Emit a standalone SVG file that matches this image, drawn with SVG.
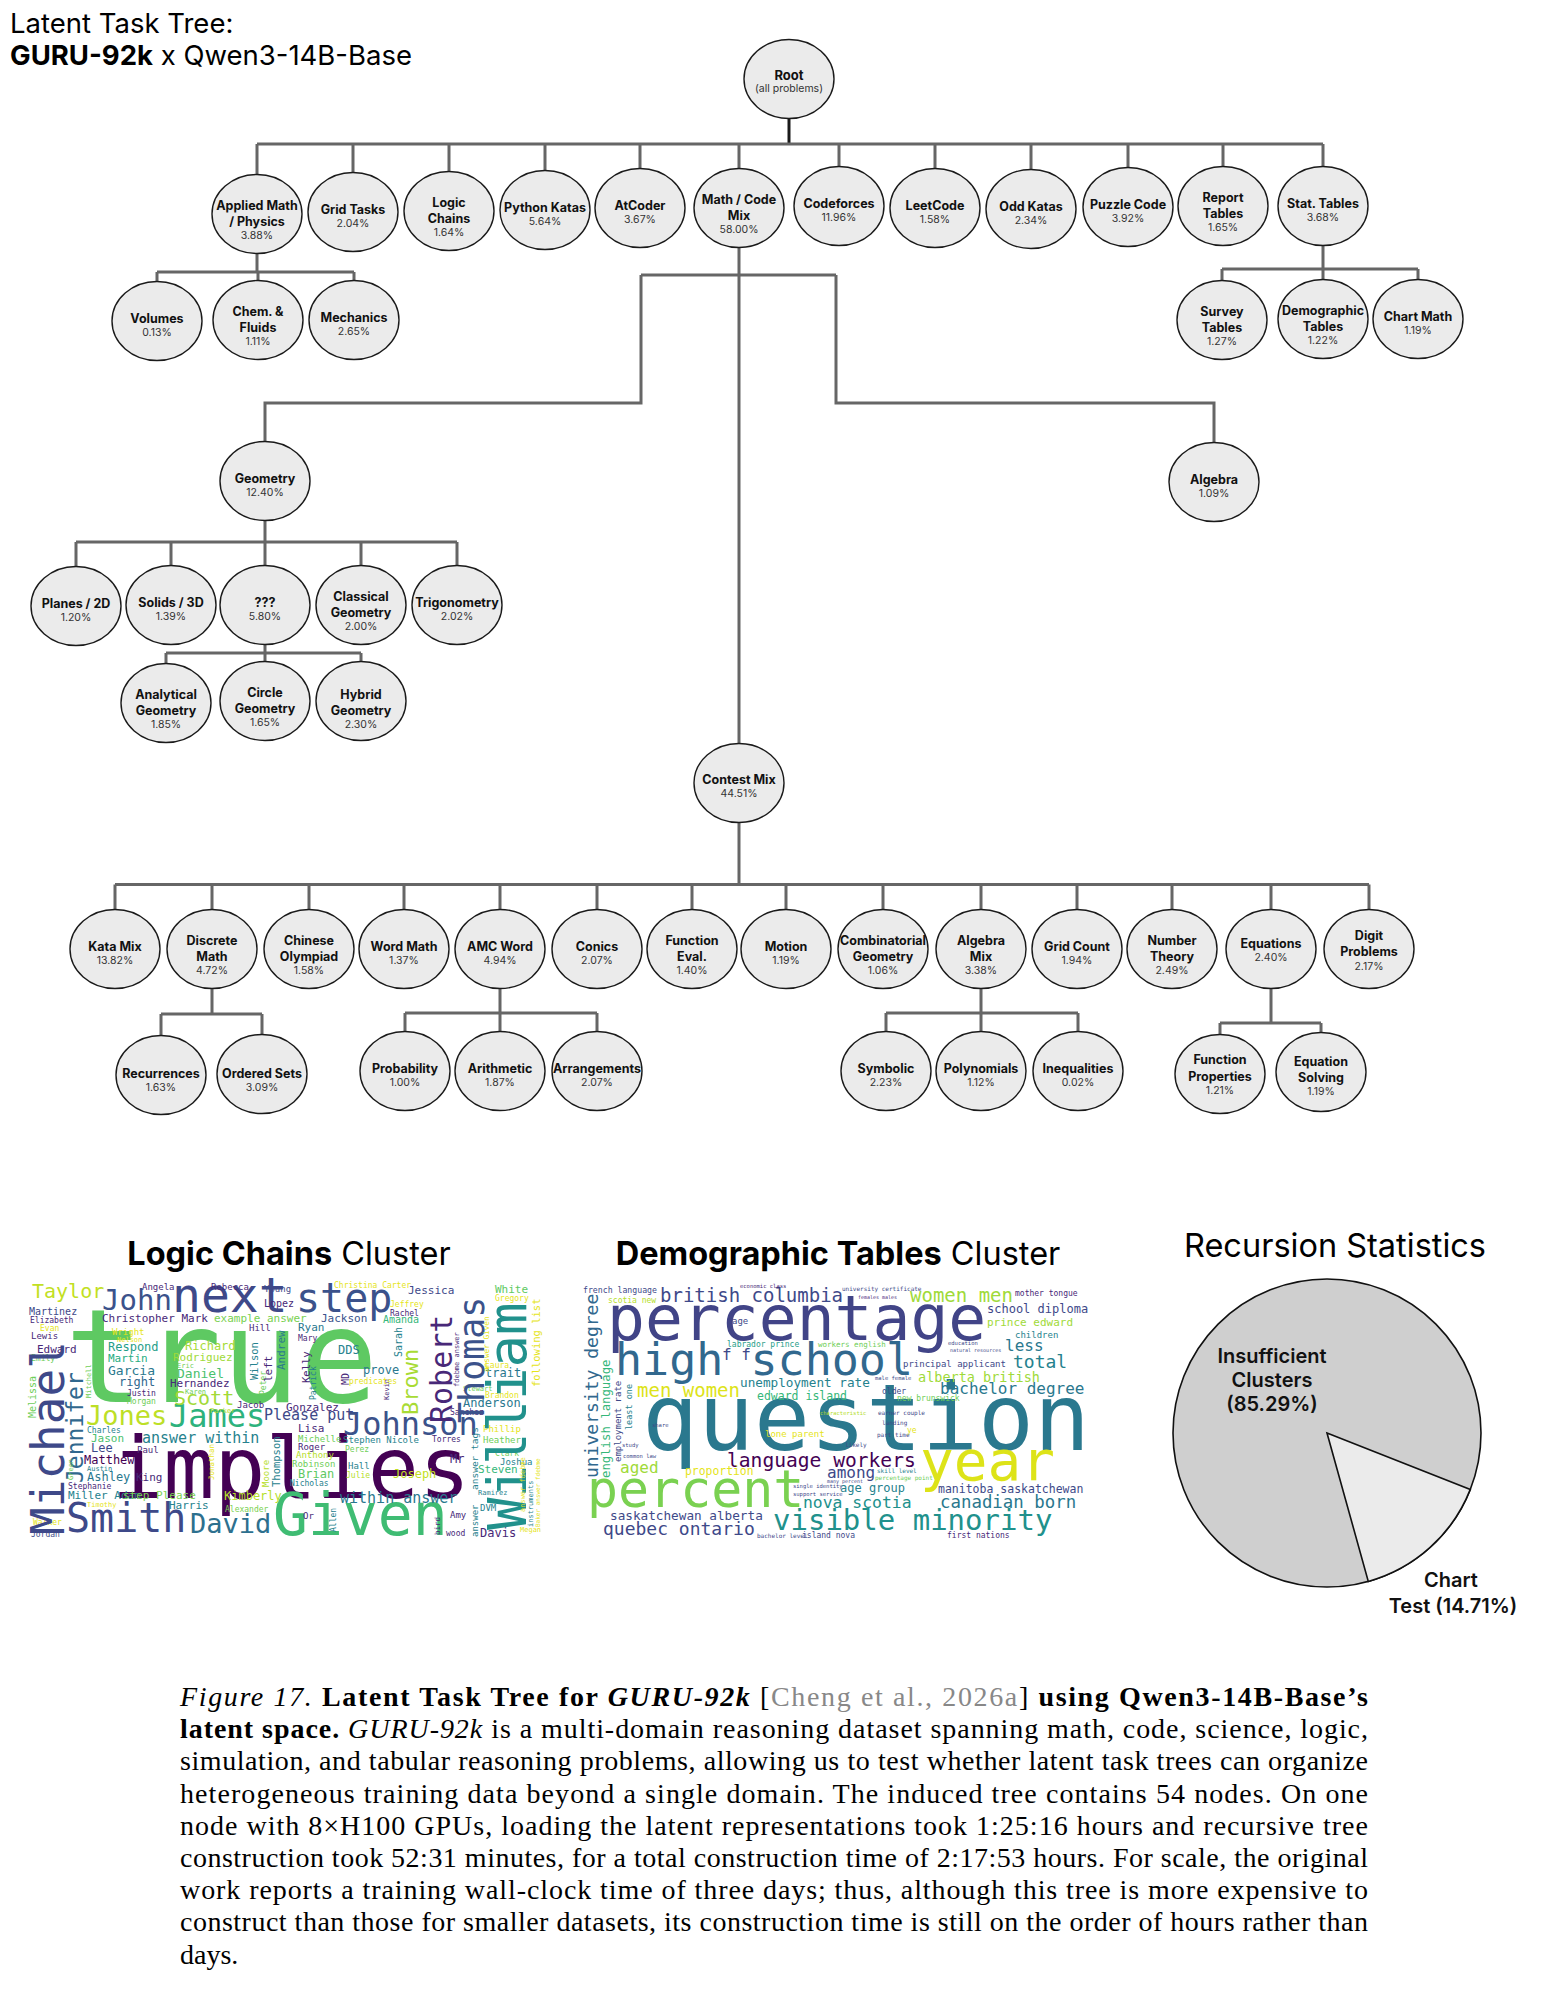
<svg xmlns="http://www.w3.org/2000/svg" width="1542" height="1992" viewBox="0 0 1542 1992">
<style>
.node ellipse{fill:#ebebeb;stroke:#1a1a1a;stroke-width:1.4}
.lb{font-family:Inter,"Liberation Sans",sans-serif;font-weight:700;font-size:12.5px;text-anchor:middle;fill:#111}
.pc{font-family:Inter,"Liberation Sans",sans-serif;font-size:10.5px;text-anchor:middle;fill:#333}
.conn path{fill:none;stroke:#666;stroke-width:3}
.title{font-family:Inter,"Liberation Sans",sans-serif;font-size:27.5px;fill:#000}
.head{font-family:Inter,"Liberation Sans",sans-serif;font-size:32.5px;fill:#000;text-anchor:middle}
.pie{font-family:Inter,"Liberation Sans",sans-serif;font-size:20px;font-weight:600;fill:#111;text-anchor:middle}
.cap{font-family:"Liberation Serif","Times New Roman",serif;font-size:28px;fill:#000}
.wc{font-family:"DejaVu Sans Mono",monospace}
.c0{fill:#440154}.c1{fill:#482878}.c2{fill:#3e4989}.c3{fill:#31688e}.c4{fill:#26828e}
.c5{fill:#1f9e89}.c6{fill:#35b779}.c7{fill:#6ece58}.c8{fill:#b5de2b}.c9{fill:#e5e419}
</style>
<rect width="1542" height="1992" fill="#fff"/>

<g id="title">
<text class="title" x="10" y="33">Latent Task Tree:</text>
<text class="title" x="10" y="65"><tspan font-weight="700">GURU-92k</tspan> x Qwen3-14B-Base</text>
</g>

<g id="connectors" class="conn">
<path d="M789 118V144" style="stroke:#1a1a1a"/>
<path d="M257 144H1323"/>
<path d="M257 144V174.5M353 144V172.5M449 144V171.5M545 144V170.5M640 144V168.5M739 144V168.5M839 144V166.5M935 144V168.5M1031 144V169.5M1128 144V167.5M1223 144V166.5M1323 144V166.5"/>
<path d="M257 253.5V272M157 272H354M157 272V281.5M258 272V280.5M354 272V280.5"/>
<path d="M1323 245.5V269M1222 269H1418M1222 269V280.5M1323 269V279.5M1418 269V279.5"/>
<path d="M739 247.5V743.5M641 275H836M641 275V403H265V441.5M836 275V403H1214V442.5"/>
<path d="M265 520.5V542M76 542H457M76 542V566.5M171 542V565.5M265 542V565.5M361 542V565.5M457 542V565.5"/>
<path d="M265 644.5V653M166 653H361M166 653V663.5M265 653V661.5M361 653V661.5"/>
<path d="M739 822.5V884.5M115 884.5H1369M115 884.5V909.5M212 884.5V909.5M309 884.5V909.5M404 884.5V909.5M500 884.5V909.5M597 884.5V909.5M692 884.5V909.5M786 884.5V909.5M883 884.5V909.5M981 884.5V909.5M1077 884.5V909.5M1172 884.5V909.5M1271 884.5V909.5M1369 884.5V909.5"/>
<path d="M212 988.5V1014M161 1014H262M161 1014V1035.5M262 1014V1034.5"/>
<path d="M500 988.5V1013M405 1013H597M405 1013V1031.5M500 1013V1031.5M597 1013V1031.5"/>
<path d="M981 988.5V1013M886 1013H1078M886 1013V1031.5M981 1013V1031.5M1078 1013V1031.5"/>
<path d="M1271 988.5V1023M1220 1023H1321M1220 1023V1034.5M1321 1023V1032.5"/>
</g>

<g id="n-root" class="node"><ellipse cx="789" cy="79" rx="45" ry="39.5"/><text class="lb" x="789" y="80" style="font-size:13px">Root</text><text class="pc" x="789" y="92">(all problems)</text></g>

<g id="n-applied" class="node"><ellipse cx="257" cy="214" rx="45" ry="39.5"/><text class="lb" x="257" y="210">Applied Math</text><text class="lb" x="257" y="226">/ Physics</text><text class="pc" x="257" y="239">3.88%</text></g>
<g id="n-grid" class="node"><ellipse cx="353" cy="212" rx="45" ry="39.5"/><text class="lb" x="353" y="213.5">Grid Tasks</text><text class="pc" x="353" y="226.5">2.04%</text></g>
<g id="n-logic" class="node"><ellipse cx="449" cy="211" rx="45" ry="39.5"/><text class="lb" x="449" y="207">Logic</text><text class="lb" x="449" y="223">Chains</text><text class="pc" x="449" y="236">1.64%</text></g>
<g id="n-python" class="node"><ellipse cx="545" cy="210" rx="45" ry="39.5"/><text class="lb" x="545" y="211.5">Python Katas</text><text class="pc" x="545" y="224.5">5.64%</text></g>
<g id="n-atcoder" class="node"><ellipse cx="640" cy="208" rx="45" ry="39.5"/><text class="lb" x="640" y="209.5">AtCoder</text><text class="pc" x="640" y="222.5">3.67%</text></g>
<g id="n-mathcode" class="node"><ellipse cx="739" cy="208" rx="45" ry="39.5"/><text class="lb" x="739" y="204">Math / Code</text><text class="lb" x="739" y="220">Mix</text><text class="pc" x="739" y="233">58.00%</text></g>
<g id="n-codeforces" class="node"><ellipse cx="839" cy="206" rx="45" ry="39.5"/><text class="lb" x="839" y="207.5">Codeforces</text><text class="pc" x="839" y="220.5">11.96%</text></g>
<g id="n-leetcode" class="node"><ellipse cx="935" cy="208" rx="45" ry="39.5"/><text class="lb" x="935" y="209.5">LeetCode</text><text class="pc" x="935" y="222.5">1.58%</text></g>
<g id="n-oddkatas" class="node"><ellipse cx="1031" cy="209" rx="45" ry="39.5"/><text class="lb" x="1031" y="210.5">Odd Katas</text><text class="pc" x="1031" y="223.5">2.34%</text></g>
<g id="n-puzzle" class="node"><ellipse cx="1128" cy="207" rx="45" ry="39.5"/><text class="lb" x="1128" y="208.5">Puzzle Code</text><text class="pc" x="1128" y="221.5">3.92%</text></g>
<g id="n-report" class="node"><ellipse cx="1223" cy="206" rx="45" ry="39.5"/><text class="lb" x="1223" y="202">Report</text><text class="lb" x="1223" y="218">Tables</text><text class="pc" x="1223" y="231">1.65%</text></g>
<g id="n-stat" class="node"><ellipse cx="1323" cy="206" rx="45" ry="39.5"/><text class="lb" x="1323" y="207.5">Stat. Tables</text><text class="pc" x="1323" y="220.5">3.68%</text></g>

<g id="n-volumes" class="node"><ellipse cx="157" cy="321" rx="45" ry="39.5"/><text class="lb" x="157" y="322.5">Volumes</text><text class="pc" x="157" y="335.5">0.13%</text></g>
<g id="n-chem" class="node"><ellipse cx="258" cy="320" rx="45" ry="39.5"/><text class="lb" x="258" y="316">Chem. &amp;</text><text class="lb" x="258" y="332">Fluids</text><text class="pc" x="258" y="345">1.11%</text></g>
<g id="n-mechanics" class="node"><ellipse cx="354" cy="320" rx="45" ry="39.5"/><text class="lb" x="354" y="321.5">Mechanics</text><text class="pc" x="354" y="334.5">2.65%</text></g>
<g id="n-survey" class="node"><ellipse cx="1222" cy="320" rx="45" ry="39.5"/><text class="lb" x="1222" y="316">Survey</text><text class="lb" x="1222" y="332">Tables</text><text class="pc" x="1222" y="345">1.27%</text></g>
<g id="n-demotables" class="node"><ellipse cx="1323" cy="319" rx="45" ry="39.5"/><text class="lb" x="1323" y="315">Demographic</text><text class="lb" x="1323" y="331">Tables</text><text class="pc" x="1323" y="344">1.22%</text></g>
<g id="n-chartmath" class="node"><ellipse cx="1418" cy="319" rx="45" ry="39.5"/><text class="lb" x="1418" y="320.5">Chart Math</text><text class="pc" x="1418" y="333.5">1.19%</text></g>

<g id="n-geometry" class="node"><ellipse cx="265" cy="481" rx="45" ry="39.5"/><text class="lb" x="265" y="482.5">Geometry</text><text class="pc" x="265" y="495.5">12.40%</text></g>
<g id="n-algebra" class="node"><ellipse cx="1214" cy="482" rx="45" ry="39.5"/><text class="lb" x="1214" y="483.5">Algebra</text><text class="pc" x="1214" y="496.5">1.09%</text></g>
<g id="n-contest" class="node"><ellipse cx="739" cy="783" rx="45" ry="39.5"/><text class="lb" x="739" y="784">Contest Mix</text><text class="pc" x="739" y="796.5">44.51%</text></g>

<g id="n-planes" class="node"><ellipse cx="76" cy="606" rx="45" ry="39.5"/><text class="lb" x="76" y="607.5">Planes / 2D</text><text class="pc" x="76" y="620.5">1.20%</text></g>
<g id="n-solids" class="node"><ellipse cx="171" cy="605" rx="45" ry="39.5"/><text class="lb" x="171" y="606.5">Solids / 3D</text><text class="pc" x="171" y="619.5">1.39%</text></g>
<g id="n-qqq" class="node"><ellipse cx="265" cy="605" rx="45" ry="39.5"/><text class="lb" x="265" y="606.5">???</text><text class="pc" x="265" y="619.5">5.80%</text></g>
<g id="n-classical" class="node"><ellipse cx="361" cy="605" rx="45" ry="39.5"/><text class="lb" x="361" y="601">Classical</text><text class="lb" x="361" y="617">Geometry</text><text class="pc" x="361" y="630">2.00%</text></g>
<g id="n-trig" class="node"><ellipse cx="457" cy="605" rx="45" ry="39.5"/><text class="lb" x="457" y="606.5">Trigonometry</text><text class="pc" x="457" y="619.5">2.02%</text></g>
<g id="n-analytical" class="node"><ellipse cx="166" cy="703" rx="45" ry="39.5"/><text class="lb" x="166" y="699">Analytical</text><text class="lb" x="166" y="715">Geometry</text><text class="pc" x="166" y="728">1.85%</text></g>
<g id="n-circle" class="node"><ellipse cx="265" cy="701" rx="45" ry="39.5"/><text class="lb" x="265" y="697">Circle</text><text class="lb" x="265" y="713">Geometry</text><text class="pc" x="265" y="726">1.65%</text></g>
<g id="n-hybrid" class="node"><ellipse cx="361" cy="701" rx="45" ry="39.5"/><text class="lb" x="361" y="699">Hybrid</text><text class="lb" x="361" y="715">Geometry</text><text class="pc" x="361" y="728">2.30%</text></g>

<g id="n-kata" class="node"><ellipse cx="115" cy="949" rx="45" ry="39.5"/><text class="lb" x="115" y="950.5">Kata Mix</text><text class="pc" x="115" y="963.5">13.82%</text></g>
<g id="n-discrete" class="node"><ellipse cx="212" cy="949" rx="45" ry="39.5"/><text class="lb" x="212" y="945">Discrete</text><text class="lb" x="212" y="961">Math</text><text class="pc" x="212" y="974">4.72%</text></g>
<g id="n-chinese" class="node"><ellipse cx="309" cy="949" rx="45" ry="39.5"/><text class="lb" x="309" y="945">Chinese</text><text class="lb" x="309" y="961">Olympiad</text><text class="pc" x="309" y="974">1.58%</text></g>
<g id="n-wordmath" class="node"><ellipse cx="404" cy="949" rx="45" ry="39.5"/><text class="lb" x="404" y="950.5">Word Math</text><text class="pc" x="404" y="963.5">1.37%</text></g>
<g id="n-amc" class="node"><ellipse cx="500" cy="949" rx="45" ry="39.5"/><text class="lb" x="500" y="950.5">AMC Word</text><text class="pc" x="500" y="963.5">4.94%</text></g>
<g id="n-conics" class="node"><ellipse cx="597" cy="949" rx="45" ry="39.5"/><text class="lb" x="597" y="950.5">Conics</text><text class="pc" x="597" y="963.5">2.07%</text></g>
<g id="n-funceval" class="node"><ellipse cx="692" cy="949" rx="45" ry="39.5"/><text class="lb" x="692" y="945">Function</text><text class="lb" x="692" y="961">Eval.</text><text class="pc" x="692" y="974">1.40%</text></g>
<g id="n-motion" class="node"><ellipse cx="786" cy="949" rx="45" ry="39.5"/><text class="lb" x="786" y="950.5">Motion</text><text class="pc" x="786" y="963.5">1.19%</text></g>
<g id="n-combgeo" class="node"><ellipse cx="883" cy="949" rx="45" ry="39.5"/><text class="lb" x="883" y="945">Combinatorial</text><text class="lb" x="883" y="961">Geometry</text><text class="pc" x="883" y="974">1.06%</text></g>
<g id="n-algmix" class="node"><ellipse cx="981" cy="949" rx="45" ry="39.5"/><text class="lb" x="981" y="945">Algebra</text><text class="lb" x="981" y="961">Mix</text><text class="pc" x="981" y="974">3.38%</text></g>
<g id="n-gridcount" class="node"><ellipse cx="1077" cy="949" rx="45" ry="39.5"/><text class="lb" x="1077" y="950.5">Grid Count</text><text class="pc" x="1077" y="963.5">1.94%</text></g>
<g id="n-numtheory" class="node"><ellipse cx="1172" cy="949" rx="45" ry="39.5"/><text class="lb" x="1172" y="945">Number</text><text class="lb" x="1172" y="961">Theory</text><text class="pc" x="1172" y="974">2.49%</text></g>
<g id="n-equations" class="node"><ellipse cx="1271" cy="949" rx="45" ry="39.5"/><text class="lb" x="1271" y="948">Equations</text><text class="pc" x="1271" y="961">2.40%</text></g>
<g id="n-digit" class="node"><ellipse cx="1369" cy="949" rx="45" ry="39.5"/><text class="lb" x="1369" y="940">Digit</text><text class="lb" x="1369" y="956">Problems</text><text class="pc" x="1369" y="969.5">2.17%</text></g>

<g id="n-recurrences" class="node"><ellipse cx="161" cy="1075" rx="45" ry="39.5"/><text class="lb" x="161" y="1078">Recurrences</text><text class="pc" x="161" y="1091">1.63%</text></g>
<g id="n-ordered" class="node"><ellipse cx="262" cy="1074" rx="45" ry="39.5"/><text class="lb" x="262" y="1077.5">Ordered Sets</text><text class="pc" x="262" y="1091">3.09%</text></g>
<g id="n-probability" class="node"><ellipse cx="405" cy="1071" rx="45" ry="39.5"/><text class="lb" x="405" y="1072.5">Probability</text><text class="pc" x="405" y="1085.5">1.00%</text></g>
<g id="n-arithmetic" class="node"><ellipse cx="500" cy="1071" rx="45" ry="39.5"/><text class="lb" x="500" y="1072.5">Arithmetic</text><text class="pc" x="500" y="1085.5">1.87%</text></g>
<g id="n-arrangements" class="node"><ellipse cx="597" cy="1071" rx="45" ry="39.5"/><text class="lb" x="597" y="1072.5">Arrangements</text><text class="pc" x="597" y="1085.5">2.07%</text></g>
<g id="n-symbolic" class="node"><ellipse cx="886" cy="1071" rx="45" ry="39.5"/><text class="lb" x="886" y="1072.5">Symbolic</text><text class="pc" x="886" y="1085.5">2.23%</text></g>
<g id="n-polynomials" class="node"><ellipse cx="981" cy="1071" rx="45" ry="39.5"/><text class="lb" x="981" y="1072.5">Polynomials</text><text class="pc" x="981" y="1085.5">1.12%</text></g>
<g id="n-inequalities" class="node"><ellipse cx="1078" cy="1071" rx="45" ry="39.5"/><text class="lb" x="1078" y="1072.5">Inequalities</text><text class="pc" x="1078" y="1085.5">0.02%</text></g>
<g id="n-funcprops" class="node"><ellipse cx="1220" cy="1074" rx="45" ry="39.5"/><text class="lb" x="1220" y="1064">Function</text><text class="lb" x="1220" y="1080.5">Properties</text><text class="pc" x="1220" y="1094">1.21%</text></g>
<g id="n-eqsolving" class="node"><ellipse cx="1321" cy="1072" rx="45" ry="39.5"/><text class="lb" x="1321" y="1065.5">Equation</text><text class="lb" x="1321" y="1082">Solving</text><text class="pc" x="1321" y="1095">1.19%</text></g>

<g id="panel-logic">
<text class="head" x="289" y="1265"><tspan font-weight="700">Logic Chains</tspan> Cluster</text>
<g class="wc">
<text x="65" y="1402" font-size="130" fill="#5ec962">true</text>
<text x="112" y="1498" font-size="85" class="c0">implies</text>
<text x="273" y="1535" font-size="58" fill="#3fbc73">Given</text>
<text x="66" y="1532" font-size="40" class="c2">Smith</text>
<text x="190" y="1533" font-size="27" fill="#2d708e">David</text>
<text x="172" y="1312" font-size="48" class="c2">next</text>
<text x="296" y="1312" font-size="40" fill="#3b528b">step</text>
<text x="102" y="1310" font-size="29" fill="#3b528b">John</text>
<text x="32" y="1298" font-size="20" fill="#c2df23">Taylor</text>
<text x="86" y="1425" font-size="27" fill="#bddf26">Jones</text>
<text x="169" y="1427" font-size="32" fill="#2db27d">James</text>
<text x="343" y="1435" font-size="32" fill="#3b528b">Johnson</text>
<text x="174" y="1405" font-size="20" fill="#a2da37">Scott</text>
<text x="142" y="1443" font-size="15" class="c4">answer within</text>
<text x="264" y="1420" font-size="15" class="c2">Please put</text>
<text x="340" y="1503" font-size="15" fill="#2a788e">within answer</text>
<text x="102" y="1322" font-size="11" class="c1">Christopher Mark</text>
<text x="214" y="1322" font-size="11" fill="#7ad151">example answer</text>
<text x="321" y="1322" font-size="11" fill="#3b528b">Jackson</text>
<text x="383" y="1323" font-size="10" class="c6">Amanda</text>
<text x="408" y="1294" font-size="11" class="c2">Jessica</text>
<text x="495" y="1293" font-size="11" fill="#5ec962">White</text>
<text x="264" y="1292" font-size="9" class="c2">Young</text>
<text x="211" y="1290" font-size="9" class="c1">Rebecca</text>
<text x="142" y="1290" font-size="9" class="c1">Angela</text>
<text x="334" y="1288" font-size="8" class="c9">Christina Carter</text>
<text x="29" y="1315" font-size="10" class="c2">Martinez</text>
<text x="30" y="1323" font-size="8" class="c1">Elizabeth</text>
<text x="40" y="1331" font-size="8" class="c9">Evan</text>
<text x="112" y="1335" font-size="9" class="c9">Wright</text>
<text x="31" y="1339" font-size="9" class="c1">Lewis</text>
<text x="37" y="1353" font-size="11" class="c1">Edward</text>
<text x="31" y="1361" font-size="8" class="c7">Emily</text>
<text x="117" y="1342" font-size="7" class="c9">Nelson</text>
<text x="108" y="1351" font-size="12" class="c5">Respond</text>
<text x="185" y="1350" font-size="12" fill="#a5db36">Richard</text>
<text x="108" y="1362" font-size="11" fill="#27ad81">Martin</text>
<text x="173" y="1361" font-size="11" fill="#a0da39">Rodriguez</text>
<text x="108" y="1375" font-size="13" fill="#2a788e">Garcia</text>
<text x="177" y="1368" font-size="7" class="c7">Eric</text>
<text x="177" y="1378" font-size="13" fill="#4ac16d">Daniel</text>
<text x="119" y="1386" font-size="12" class="c3">right</text>
<text x="170" y="1387" font-size="11" class="c1">Hernandez</text>
<text x="185" y="1394" font-size="7" class="c7">Karen</text>
<text x="127" y="1396" font-size="8" class="c1">Justin</text>
<text x="127" y="1404" font-size="8" class="c7">Morgan</text>
<text x="87" y="1433" font-size="8" class="c4">Charles</text>
<text x="91" y="1442" font-size="11" fill="#4ac16d">Jason</text>
<text x="91" y="1452" font-size="12" class="c2">Lee</text>
<text x="137" y="1453" font-size="9" class="c1">Paul</text>
<text x="84" y="1464" font-size="12" class="c0">Matthew</text>
<text x="87" y="1471" font-size="7" class="c4">Austin</text>
<text x="87" y="1481" font-size="12" fill="#2a788e">Ashley</text>
<text x="136" y="1481" font-size="11" class="c1">King</text>
<text x="68" y="1489" font-size="8" class="c1">Stephanie</text>
<text x="68" y="1499" font-size="11" class="c4">Miller Adam</text>
<text x="123" y="1499" font-size="11" fill="#7ad151">step Please</text>
<text x="87" y="1507" font-size="7" class="c9">Timothy</text>
<text x="169" y="1509" font-size="11" class="c4">Harris</text>
<text x="224" y="1500" font-size="12" class="c8">Kimberly</text>
<text x="225" y="1512" font-size="8" fill="#7ad151">Alexander</text>
<text x="33" y="1525" font-size="8" class="c9">Walker</text>
<text x="31" y="1537" font-size="8" class="c2">Jordan</text>
<text x="264" y="1307" font-size="10" class="c1">Lopez</text>
<text x="249" y="1331" font-size="9" class="c1">Hill</text>
<text x="298" y="1331" font-size="11" fill="#2a788e">Ryan</text>
<text x="298" y="1341" font-size="8" class="c1">Mary</text>
<text x="338" y="1354" font-size="12" class="c4">DDS</text>
<text x="363" y="1374" font-size="12" fill="#2a788e">prove</text>
<text x="349" y="1384" font-size="8" class="c9">predicates</text>
<text x="237" y="1408" font-size="9" class="c1">Jacob</text>
<text x="210" y="1413" font-size="7" class="c8">Parker</text>
<text x="286" y="1411" font-size="11" class="c1">Gonzalez</text>
<text x="298" y="1432" font-size="11" class="c1">Lisa</text>
<text x="298" y="1442" font-size="9" class="c7">Michelle</text>
<text x="343" y="1443" font-size="9" class="c4">Stephen Nicole</text>
<text x="432" y="1442" font-size="8" class="c1">Torres</text>
<text x="298" y="1450" font-size="9" class="c1">Roger</text>
<text x="345" y="1452" font-size="8" class="c7">Perez</text>
<text x="296" y="1458" font-size="9" class="c8">Anthony</text>
<text x="292" y="1467" font-size="9" class="c7">Robinson</text>
<text x="348" y="1469" font-size="9" class="c4">Hall</text>
<text x="298" y="1478" font-size="12" fill="#5ec962">Brian</text>
<text x="346" y="1478" font-size="8" class="c8">Julie</text>
<text x="290" y="1486" font-size="8" class="c4">Nicholas</text>
<text x="393" y="1478" font-size="12" fill="#c2df23">Joseph</text>
<text x="303" y="1519" font-size="9" class="c1">Or</text>
<text x="450" y="1518" font-size="9" class="c1">Amy</text>
<text x="446" y="1536" font-size="8" class="c1">wood</text>
<text x="480" y="1537" font-size="12" class="c1">Davis</text>
<text x="450" y="1463" font-size="12" class="c1">Mr</text>
<text x="500" y="1465" font-size="9" class="c4">Joshua</text>
<text x="478" y="1473" font-size="11" class="c6">Steven</text>
<text x="483" y="1443" font-size="9" class="c7">Heather</text>
<text x="495" y="1456" font-size="8" class="c7">Clark</text>
<text x="483" y="1432" font-size="9" class="c9">Phillip</text>
<text x="463" y="1407" font-size="12" fill="#2a788e">Anderson</text>
<text x="450" y="1415" font-size="8" class="c1">Sanchez</text>
<text x="485" y="1398" font-size="8" class="c9">Brandon</text>
<text x="463" y="1391" font-size="7" class="c7">Stewart</text>
<text x="485" y="1377" font-size="12" fill="#2a788e">trait</text>
<text x="485" y="1368" font-size="8" class="c9">Laura</text>
<text x="495" y="1301" font-size="8" class="c9">Gregory</text>
<text x="390" y="1307" font-size="8" class="c9">Jeffrey</text>
<text x="390" y="1316" font-size="8" class="c1">Rachel</text>
<text x="480" y="1511" font-size="9" class="c4">DVM</text>
<text x="478" y="1495" font-size="7" class="c4">Ramirez</text>
<text x="520" y="1532" font-size="7" class="c9">Megan</text>
<text transform="translate(64 1535) rotate(-90)" font-size="46" class="c2">Michael</text>
<text transform="translate(83 1483) rotate(-90)" font-size="23" class="c3">Jennifer</text>
<text transform="translate(526 1530) rotate(-90)" font-size="54" fill="#21918c">William</text>
<text transform="translate(484 1423) rotate(-90)" font-size="35" fill="#3b528b">Thomas</text>
<text transform="translate(452 1423) rotate(-90)" font-size="30" class="c1">Robert</text>
<text transform="translate(418 1415) rotate(-90)" font-size="22" fill="#a8db34">Brown</text>
<text transform="translate(402 1357) rotate(-90)" font-size="10" class="c4">Sarah</text>
<text transform="translate(258 1380) rotate(-90)" font-size="10.5" class="c4">Wilson</text>
<text transform="translate(266 1395) rotate(-90)" font-size="8" class="c7">Peter</text>
<text transform="translate(272 1382) rotate(-90)" font-size="11" class="c1">left</text>
<text transform="translate(285 1370) rotate(-90)" font-size="11" fill="#2a788e">Andrew</text>
<text transform="translate(310 1383) rotate(-90)" font-size="10.5" class="c1">Kelly</text>
<text transform="translate(316 1400) rotate(-90)" font-size="8" class="c4">Patrick</text>
<text transform="translate(349 1385) rotate(-90)" font-size="10" class="c1">MD</text>
<text transform="translate(389 1400) rotate(-90)" font-size="7" class="c1">Kevin</text>
<text transform="translate(280 1487) rotate(-90)" font-size="10.5" class="c4">Thompson</text>
<text transform="translate(269 1487) rotate(-90)" font-size="9" class="c8">Moore</text>
<text transform="translate(214 1480) rotate(-90)" font-size="7.5" class="c9">Jonathan</text>
<text transform="translate(73 1480) rotate(-90)" font-size="7" class="c7">Green</text>
<text transform="translate(91 1398) rotate(-90)" font-size="7" class="c7">Mitchell</text>
<text transform="translate(36 1418) rotate(-90)" font-size="10" class="c7">Melissa</text>
<text transform="translate(336 1532) rotate(-90)" font-size="8" class="c4">Allen</text>
<text transform="translate(440 1535) rotate(-90)" font-size="7.5" class="c1">bird</text>
<text transform="translate(478 1490) rotate(-90)" font-size="9.5" class="c4">answer tags</text>
<text transform="translate(478 1537) rotate(-90)" font-size="9" class="c4">answer</text>
<text transform="translate(533 1527) rotate(-90)" font-size="7" class="c4">instruments</text>
<text transform="translate(540 1527) rotate(-90)" font-size="6" class="c9">Baker answer fdebme</text>
<text transform="translate(525 1512) rotate(-90)" font-size="7" class="c9">answer fdebme</text>
<text transform="translate(459 1387) rotate(-90)" font-size="7" class="c1">fdebme answer</text>
<text transform="translate(489 1372) rotate(-90)" font-size="7.7" class="c9">answer Given</text>
<text transform="translate(540 1387) rotate(-90)" font-size="10.5" class="c9">following list</text>
</g>
</g>

<g id="panel-demographic">
<text class="head" x="838" y="1265"><tspan font-weight="700">Demographic Tables</tspan> Cluster</text>
<g class="wc">
<text x="607" y="1340" font-size="63" fill="#414487">percentage</text>
<text x="642" y="1450" font-size="93" fill="#2a788e">question</text>
<text x="615" y="1375" font-size="45" class="c3">high school</text>
<text x="722" y="1360" font-size="16" class="c2">f f</text>
<text x="587" y="1507" font-size="51.6" fill="#7ad151">percent</text>
<text x="920" y="1480" font-size="56" fill="#dde318">year</text>
<text x="773" y="1530" font-size="29" fill="#21918c">visible minority</text>
<text x="660" y="1302" font-size="19" class="c2">british columbia</text>
<text x="910" y="1302" font-size="19" fill="#a0da39">women men</text>
<text x="1015" y="1296" font-size="8" class="c1">mother tongue</text>
<text x="987" y="1313" font-size="12" class="c2">school diploma</text>
<text x="987" y="1326" font-size="11" fill="#a0da39">prince edward</text>
<text x="1015" y="1338" font-size="9" class="c4">children</text>
<text x="1005" y="1351" font-size="16" fill="#2a788e">less</text>
<text x="1013" y="1368" font-size="18" class="c4">total</text>
<text x="903" y="1367" font-size="9" class="c2">principal applicant</text>
<text x="918" y="1382" font-size="13.5" fill="#a0da39">alberta british</text>
<text x="940" y="1394" font-size="16" fill="#2a788e">bachelor degree</text>
<text x="882" y="1394" font-size="8" class="c2">older</text>
<text x="897" y="1401" font-size="8" class="c7">new brunswick</text>
<text x="740" y="1387" font-size="12.7" class="c4">unemployment rate</text>
<text x="757" y="1400" font-size="11.5" class="c6">edward island</text>
<text x="637" y="1397" font-size="19" fill="#dde318">men women</text>
<text x="727" y="1347" font-size="8" class="c5">labrador prince</text>
<text x="818" y="1347" font-size="7.5" class="c7">workers english</text>
<text x="732" y="1324" font-size="9" class="c2">age</text>
<text x="583" y="1293" font-size="8.2" class="c2">french language</text>
<text x="608" y="1303" font-size="8" class="c8">scotia new</text>
<text x="765" y="1437" font-size="9" class="c9">lone parent</text>
<text x="907" y="1433" font-size="8" class="c9">ye</text>
<text x="727" y="1467" font-size="19.6" class="c0">language workers</text>
<text x="620" y="1473" font-size="16" fill="#a0da39">aged</text>
<text x="685" y="1475" font-size="11.4" class="c9">proportion</text>
<text x="827" y="1478" font-size="16" class="c2">among</text>
<text x="840" y="1492" font-size="12" class="c4">age group</text>
<text x="803" y="1508" font-size="16.4" fill="#21918c">nova scotia</text>
<text x="610" y="1520" font-size="12.7" class="c2">saskatchewan alberta</text>
<text x="603" y="1535" font-size="18" class="c2">quebec ontario</text>
<text x="938" y="1493" font-size="11.5" class="c2">manitoba saskatchewan</text>
<text x="940" y="1508" font-size="17.4" fill="#2a788e">canadian born</text>
<text x="947" y="1538" font-size="8" class="c1">first nations</text>
<text x="802" y="1538" font-size="8" class="c2">island nova</text>
<text x="757" y="1538" font-size="6" class="c2">bachelor level</text>
<text x="740" y="1288" font-size="5.5" class="c1">economic class</text>
<text x="842" y="1291" font-size="6" class="c2">university certificate</text>
<text x="858" y="1299" font-size="5" class="c1">females males</text>
<text x="950" y="1352" font-size="5" class="c2">natural resources</text>
<text x="948" y="1345" font-size="5.5" class="c2">education</text>
<text x="793" y="1488" font-size="5.5" class="c2">single identity</text>
<text x="793" y="1496" font-size="5.5" class="c2">support service</text>
<text x="877" y="1473" font-size="6" class="c4">skill level</text>
<text x="875" y="1480" font-size="6" class="c7">percentage point</text>
<text x="827" y="1483" font-size="5" class="c2">many percent</text>
<text x="845" y="1447" font-size="6" class="c2">likely</text>
<text x="877" y="1437" font-size="6" class="c2">part time</text>
<text x="882" y="1425" font-size="6" class="c2">landing</text>
<text x="878" y="1415" font-size="6" class="c2">earner couple</text>
<text x="820" y="1415" font-size="5.5" class="c8">characteristic</text>
<text x="623" y="1458" font-size="5.5" class="c2">common law</text>
<text x="622" y="1447" font-size="5.5" class="c2">study</text>
<text x="652" y="1427" font-size="5.5" class="c2">share</text>
<text x="875" y="1380" font-size="5.5" class="c2">male female</text>
<text transform="translate(598 1478) rotate(-90)" font-size="18" class="c3">university degree</text>
<text transform="translate(610 1478) rotate(-90)" font-size="12.3" class="c6">english language</text>
<text transform="translate(621 1462) rotate(-90)" font-size="9" class="c2">employment rate</text>
<text transform="translate(632 1430) rotate(-90)" font-size="8.5" class="c4">least one</text>
</g>
</g>

<g id="panel-recursion">
<text class="head" x="1335" y="1257">Recursion Statistics</text>
<circle cx="1327" cy="1433" r="154" fill="#cfcfcf" stroke="#111" stroke-width="1.6"/>
<path d="M1327 1433L1470.3 1489.4A154 154 0 0 1 1368.3 1581.4Z" fill="#ebebeb" stroke="#111" stroke-width="1.6"/>
<text class="pie" x="1272" y="1363">Insufficient</text>
<text class="pie" x="1272" y="1387">Clusters</text>
<text class="pie" x="1272" y="1411">(85.29%)</text>
<text class="pie" x="1451" y="1587">Chart</text>
<text class="pie" x="1453" y="1613">Test (14.71%)</text>
</g>

<g id="caption" class="cap">
<text x="180" y="1706" textLength="1188" lengthAdjust="spacing"><tspan font-style="italic">Figure 17.</tspan>  <tspan font-weight="700">Latent Task Tree for </tspan><tspan font-weight="700" font-style="italic">GURU-92k</tspan> [<tspan fill="#888">Cheng et al., 2026a</tspan>] <tspan font-weight="700">using Qwen3-14B-Base’s</tspan></text>
<text x="180" y="1738" textLength="1188" lengthAdjust="spacing"><tspan font-weight="700">latent space.</tspan> <tspan font-style="italic">GURU-92k</tspan> is a multi-domain reasoning dataset spanning math, code, science, logic,</text>
<text x="180" y="1770" textLength="1188" lengthAdjust="spacing">simulation, and tabular reasoning problems, allowing us to test whether latent task trees can organize</text>
<text x="180" y="1803" textLength="1188" lengthAdjust="spacing">heterogeneous training data beyond a single domain. The induced tree contains 54 nodes. On one</text>
<text x="180" y="1835" textLength="1188" lengthAdjust="spacing">node with 8×H100 GPUs, loading the latent representations took 1:25:16 hours and recursive tree</text>
<text x="180" y="1867" textLength="1188" lengthAdjust="spacing">construction took 52:31 minutes, for a total construction time of 2:17:53 hours. For scale, the original</text>
<text x="180" y="1899" textLength="1188" lengthAdjust="spacing">work reports a training wall-clock time of three days; thus, although this tree is more expensive to</text>
<text x="180" y="1931" textLength="1188" lengthAdjust="spacing">construct than those for smaller datasets, its construction time is still on the order of hours rather than</text>
<text x="180" y="1964">days.</text>
</g>
</svg>
